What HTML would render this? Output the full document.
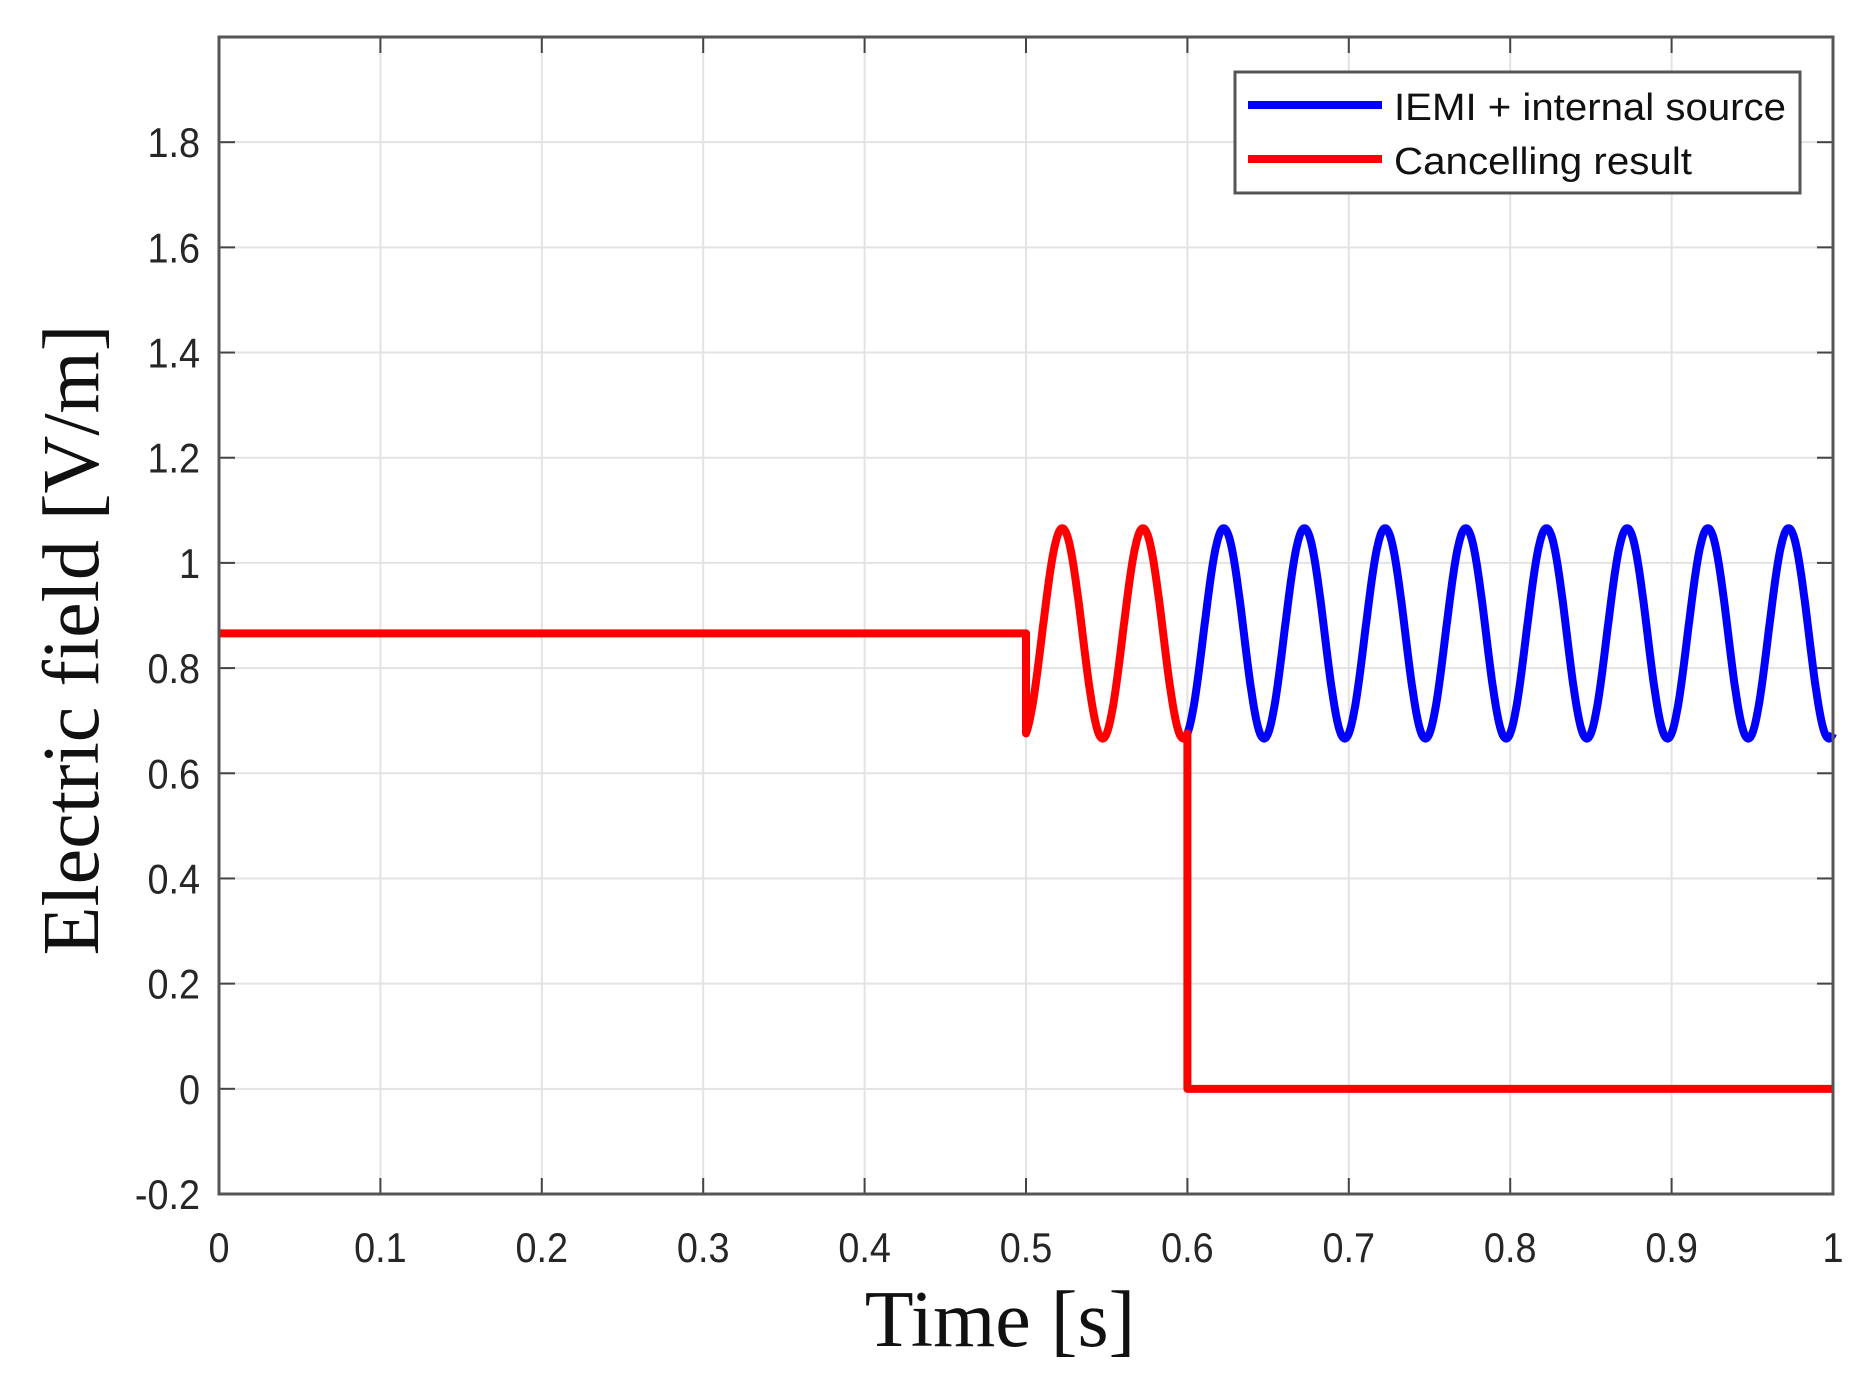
<!DOCTYPE html>
<html><head><meta charset="utf-8"><style>
html,body{margin:0;padding:0;background:#fff;}
svg{display:block}
</style></head><body>
<svg id="s" width="1868" height="1392" xmlns="http://www.w3.org/2000/svg">
<g id="grid" stroke="#e3e3e3" stroke-width="2"></g>
<g id="ticks" stroke="#444" stroke-width="2"></g>
<g id="labels" font-family="Liberation Sans, Arial, sans-serif" font-size="42" fill="#262626"></g>
<path id="blue" fill="none" stroke="#0000ff" stroke-width="8" stroke-linejoin="round"/>
<path id="red" fill="none" stroke="#ff0000" stroke-width="8" stroke-linejoin="round"/>
<rect x="219" y="37" width="1614" height="1157" fill="none" stroke="#555" stroke-width="3"/>
<rect x="1235" y="72" width="565" height="121" fill="#fff" stroke="#555" stroke-width="3"/>
<line x1="1248" y1="105" x2="1382" y2="105" stroke="#0000ff" stroke-width="8"/>
<line x1="1248" y1="159" x2="1382" y2="159" stroke="#ff0000" stroke-width="8"/>
<g font-family="Liberation Sans, Arial, sans-serif" font-size="38" fill="#111">
<text x="1394" y="120" textLength="392" lengthAdjust="spacingAndGlyphs">IEMI + internal source</text>
<text x="1394" y="174" textLength="298" lengthAdjust="spacingAndGlyphs">Cancelling result</text>
</g>
<text x="1000" y="1346" text-anchor="middle" font-family="Liberation Serif, serif" font-size="80" fill="#111">Time [s]</text>
<text transform="translate(98,640) rotate(-90)" text-anchor="middle" font-family="Liberation Serif, serif" font-size="80" fill="#111">Electric field [V/m]</text>
</svg>
<script>
var L=219,R=1833,T=37,B=1194;
function X(t){return L+(R-L)*t;}
function Y(v){return B-(v+0.2)/2.2*(B-T);}
var ns="http://www.w3.org/2000/svg";
function el(p,n,a,txt){var e=document.createElementNS(ns,n);for(var k in a)e.setAttribute(k,a[k]);if(txt!==undefined)e.textContent=txt;document.getElementById(p).appendChild(e);return e;}
for(var i=1;i<10;i++){var x=X(i/10);el('grid','line',{x1:x,y1:T,x2:x,y2:B});el('ticks','line',{x1:x,y1:B,x2:x,y2:B-16});el('ticks','line',{x1:x,y1:T,x2:x,y2:T+16});}
for(var i=0;i<=10;i++){var lab=i==0?'0':(i==10?'1':'0.'+i);var x=X(i/10);el('labels','text',{x:0,y:0,'text-anchor':'middle',transform:'translate('+x+',1262) scale(0.9,1)'},lab);}
for(var j=-1;j<=9;j++){var v=j*0.2;var y=Y(v);if(j>-1){el('grid','line',{x1:L,y1:y,x2:R,y2:y});el('ticks','line',{x1:L,y1:y,x2:L+16,y2:y});el('ticks','line',{x1:R,y1:y,x2:R-16,y2:y});}
var lab=(Math.round(v*10)/10).toString();el('labels','text',{x:0,y:0,'text-anchor':'end',transform:'translate(200,'+(y+15)+') scale(0.9,1)'},lab);}
function f(t){return 0.866+0.2*Math.sin(2*Math.PI*20*(t-0.5225)+Math.PI/2);}
var d='M'+X(0)+' '+Y(0.866)+' L'+X(0.5)+' '+Y(0.866);
for(var t=0.5;t<=0.6001;t+=0.0005)d+=' L'+X(t).toFixed(1)+' '+Y(f(t)).toFixed(1);
d+=' L'+X(0.6)+' '+Y(0)+' L'+X(1)+' '+Y(0);
document.getElementById('red').setAttribute('d',d);
var b='M'+X(0.6)+' '+Y(f(0.6));
for(var t=0.6;t<=1.0001;t+=0.0005)b+=' L'+X(t).toFixed(1)+' '+Y(f(t)).toFixed(1);
document.getElementById('blue').setAttribute('d',b);
</script>
</body></html>
